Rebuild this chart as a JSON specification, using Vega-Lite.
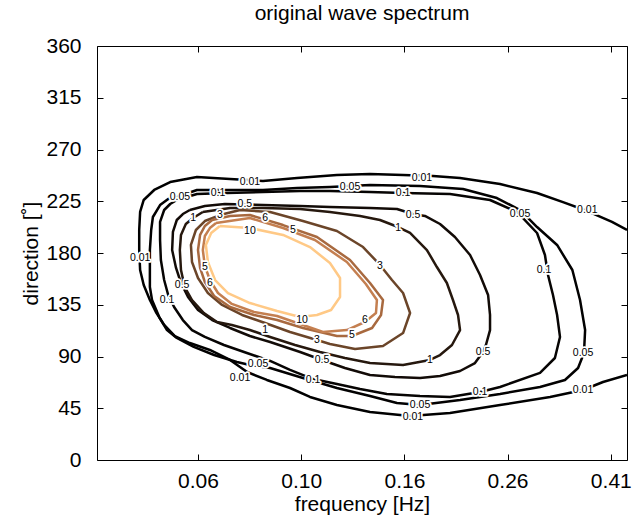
{
  "$schema": "https://vega.github.io/schema/vega-lite/v6.json",
  "width": 530,
  "height": 414,
  "autosize": {"type": "none"},
  "padding": {"left": 97, "top": 46, "right": 9, "bottom": 63},
  "background": "white",
  "config": {
    "view": {"stroke": "black", "strokeWidth": 1},
    "font": "Liberation Sans",
    "axis": {"grid": false, "domainColor": "black", "tickColor": "black", "labelColor": "black", "titleColor": "black", "labelFont": "Liberation Sans", "titleFont": "Liberation Sans", "titleFontWeight": "normal"}
  },
  "title": {"text": "original wave spectrum", "fontSize": 21, "fontWeight": "normal", "font": "Liberation Sans", "anchor": "middle", "offset": 11, "color": "black"},
  "datasets": {
    "contours": [
      {"level":"0.01","seq":1,"f":0.4445,"dir":200.0},{"level":"0.01","seq":2,"f":0.4151,"dir":207.0},{"level":"0.01","seq":3,"f":0.3710,"dir":216.5},{"level":"0.01","seq":4,"f":0.3321,"dir":224.3},{"level":"0.01","seq":5,"f":0.2951,"dir":232.2},{"level":"0.01","seq":6,"f":0.2493,"dir":240.0},{"level":"0.01","seq":7,"f":0.2078,"dir":245.2},{"level":"0.01","seq":8,"f":0.1837,"dir":247.0},{"level":"0.01","seq":9,"f":0.1603,"dir":247.8},{"level":"0.01","seq":10,"f":0.1379,"dir":248.7},{"level":"0.01","seq":11,"f":0.1186,"dir":247.8},{"level":"0.01","seq":12,"f":0.0989,"dir":245.2},{"level":"0.01","seq":13,"f":0.0847,"dir":242.6},{"level":"0.01","seq":14,"f":0.0729,"dir":244.3},{"level":"0.01","seq":15,"f":0.0627,"dir":246.1},{"level":"0.01","seq":16,"f":0.0555,"dir":241.7},{"level":"0.01","seq":17,"f":0.0516,"dir":234.8},{"level":"0.01","seq":18,"f":0.0492,"dir":226.1},{"level":"0.01","seq":19,"f":0.0484,"dir":215.7},{"level":"0.01","seq":20,"f":0.0482,"dir":200.0},{"level":"0.01","seq":21,"f":0.0482,"dir":182.6},{"level":"0.01","seq":22,"f":0.0484,"dir":165.2},{"level":"0.01","seq":23,"f":0.0492,"dir":152.2},{"level":"0.01","seq":24,"f":0.0506,"dir":139.1},{"level":"0.01","seq":25,"f":0.0520,"dir":128.7},{"level":"0.01","seq":26,"f":0.0540,"dir":117.4},{"level":"0.01","seq":27,"f":0.0567,"dir":107.8},{"level":"0.01","seq":28,"f":0.0607,"dir":101.7},{"level":"0.01","seq":29,"f":0.0665,"dir":95.7},{"level":"0.01","seq":30,"f":0.0729,"dir":87.0},{"level":"0.01","seq":31,"f":0.0788,"dir":76.5},{"level":"0.01","seq":32,"f":0.0862,"dir":69.6},{"level":"0.01","seq":33,"f":0.0958,"dir":62.6},{"level":"0.01","seq":34,"f":0.1049,"dir":54.8},{"level":"0.01","seq":35,"f":0.1186,"dir":47.8},{"level":"0.01","seq":36,"f":0.1379,"dir":41.7},{"level":"0.01","seq":37,"f":0.1655,"dir":38.3},{"level":"0.01","seq":38,"f":0.1985,"dir":40.9},{"level":"0.01","seq":39,"f":0.2493,"dir":47.8},{"level":"0.01","seq":40,"f":0.3131,"dir":54.8},{"level":"0.01","seq":41,"f":0.3638,"dir":60.9},{"level":"0.01","seq":42,"f":0.3985,"dir":67.8},{"level":"0.01","seq":43,"f":0.4445,"dir":73.9},
      {"level":"0.05","seq":1,"f":0.0572,"dir":228.7},{"level":"0.05","seq":2,"f":0.0627,"dir":234.8},{"level":"0.05","seq":3,"f":0.0729,"dir":234.8},{"level":"0.05","seq":4,"f":0.0847,"dir":234.8},{"level":"0.05","seq":5,"f":0.0989,"dir":236.5},{"level":"0.05","seq":6,"f":0.1149,"dir":237.4},{"level":"0.05","seq":7,"f":0.1379,"dir":239.1},{"level":"0.05","seq":8,"f":0.1732,"dir":238.3},{"level":"0.05","seq":9,"f":0.2106,"dir":235.7},{"level":"0.05","seq":10,"f":0.2458,"dir":227.8},{"level":"0.05","seq":11,"f":0.2731,"dir":217.4},{"level":"0.05","seq":12,"f":0.2951,"dir":202.6},{"level":"0.05","seq":13,"f":0.3233,"dir":187.0},{"level":"0.05","seq":14,"f":0.3466,"dir":165.2},{"level":"0.05","seq":15,"f":0.3589,"dir":139.1},{"level":"0.05","seq":16,"f":0.3673,"dir":113.0},{"level":"0.05","seq":17,"f":0.3654,"dir":93.0},{"level":"0.05","seq":18,"f":0.3557,"dir":80.0},{"level":"0.05","seq":19,"f":0.3351,"dir":69.6},{"level":"0.05","seq":20,"f":0.2991,"dir":63.5},{"level":"0.05","seq":21,"f":0.2493,"dir":57.4},{"level":"0.05","seq":22,"f":0.2078,"dir":52.2},{"level":"0.05","seq":23,"f":0.1732,"dir":47.8},{"level":"0.05","seq":24,"f":0.1559,"dir":49.6},{"level":"0.05","seq":25,"f":0.1379,"dir":55.7},{"level":"0.05","seq":26,"f":0.1186,"dir":62.6},{"level":"0.05","seq":27,"f":0.1016,"dir":71.3},{"level":"0.05","seq":28,"f":0.0875,"dir":80.0},{"level":"0.05","seq":29,"f":0.0798,"dir":82.6},{"level":"0.05","seq":30,"f":0.0752,"dir":85.2},{"level":"0.05","seq":31,"f":0.0678,"dir":91.3},{"level":"0.05","seq":32,"f":0.0618,"dir":98.3},{"level":"0.05","seq":33,"f":0.0572,"dir":106.1},{"level":"0.05","seq":34,"f":0.0547,"dir":113.0},{"level":"0.05","seq":35,"f":0.0528,"dir":124.3},{"level":"0.05","seq":36,"f":0.0511,"dir":139.1},{"level":"0.05","seq":37,"f":0.0506,"dir":150.4},{"level":"0.05","seq":38,"f":0.0506,"dir":165.2},{"level":"0.05","seq":39,"f":0.0506,"dir":182.6},{"level":"0.05","seq":40,"f":0.0509,"dir":200.0},{"level":"0.05","seq":41,"f":0.0513,"dir":211.3},{"level":"0.05","seq":42,"f":0.0530,"dir":221.7},{"level":"0.05","seq":43,"f":0.0550,"dir":227.0},{"level":"0.05","seq":44,"f":0.0572,"dir":228.7},
      {"level":"0.1","seq":1,"f":0.0572,"dir":226.1},{"level":"0.1","seq":2,"f":0.0627,"dir":231.3},{"level":"0.1","seq":3,"f":0.0719,"dir":232.2},{"level":"0.1","seq":4,"f":0.0847,"dir":233.0},{"level":"0.1","seq":5,"f":0.1003,"dir":233.9},{"level":"0.1","seq":6,"f":0.1149,"dir":233.9},{"level":"0.1","seq":7,"f":0.1379,"dir":233.0},{"level":"0.1","seq":8,"f":0.1603,"dir":232.2},{"level":"0.1","seq":9,"f":0.1985,"dir":231.3},{"level":"0.1","seq":10,"f":0.2382,"dir":226.1},{"level":"0.1","seq":11,"f":0.2694,"dir":215.7},{"level":"0.1","seq":12,"f":0.2951,"dir":197.4},{"level":"0.1","seq":13,"f":0.3059,"dir":178.3},{"level":"0.1","seq":14,"f":0.3102,"dir":160.9},{"level":"0.1","seq":15,"f":0.3173,"dir":143.5},{"level":"0.1","seq":16,"f":0.3233,"dir":126.1},{"level":"0.1","seq":17,"f":0.3276,"dir":107.0},{"level":"0.1","seq":18,"f":0.3201,"dir":88.7},{"level":"0.1","seq":19,"f":0.2991,"dir":75.7},{"level":"0.1","seq":20,"f":0.2493,"dir":63.5},{"level":"0.1","seq":21,"f":0.2276,"dir":59.1},{"level":"0.1","seq":22,"f":0.1985,"dir":54.8},{"level":"0.1","seq":23,"f":0.1732,"dir":55.7},{"level":"0.1","seq":24,"f":0.1489,"dir":57.4},{"level":"0.1","seq":25,"f":0.1318,"dir":61.7},{"level":"0.1","seq":26,"f":0.1186,"dir":66.1},{"level":"0.1","seq":27,"f":0.1064,"dir":70.4},{"level":"0.1","seq":28,"f":0.0958,"dir":78.3},{"level":"0.1","seq":29,"f":0.0875,"dir":86.1},{"level":"0.1","seq":30,"f":0.0777,"dir":93.9},{"level":"0.1","seq":31,"f":0.0709,"dir":100.0},{"level":"0.1","seq":32,"f":0.0650,"dir":107.0},{"level":"0.1","seq":33,"f":0.0613,"dir":113.0},{"level":"0.1","seq":34,"f":0.0588,"dir":121.7},{"level":"0.1","seq":35,"f":0.0565,"dir":133.0},{"level":"0.1","seq":36,"f":0.0550,"dir":143.5},{"level":"0.1","seq":37,"f":0.0540,"dir":156.5},{"level":"0.1","seq":38,"f":0.0532,"dir":173.9},{"level":"0.1","seq":39,"f":0.0530,"dir":191.3},{"level":"0.1","seq":40,"f":0.0530,"dir":207.0},{"level":"0.1","seq":41,"f":0.0540,"dir":217.4},{"level":"0.1","seq":42,"f":0.0555,"dir":222.6},{"level":"0.1","seq":43,"f":0.0572,"dir":226.1},
      {"level":"0.5","seq":1,"f":0.0607,"dir":217.4},{"level":"0.5","seq":2,"f":0.0650,"dir":220.9},{"level":"0.5","seq":3,"f":0.0712,"dir":222.6},{"level":"0.5","seq":4,"f":0.0847,"dir":221.7},{"level":"0.5","seq":5,"f":0.1003,"dir":220.9},{"level":"0.5","seq":6,"f":0.1149,"dir":220.0},{"level":"0.5","seq":7,"f":0.1379,"dir":219.1},{"level":"0.5","seq":8,"f":0.1559,"dir":218.3},{"level":"0.5","seq":9,"f":0.1677,"dir":213.9},{"level":"0.5","seq":10,"f":0.1771,"dir":212.2},{"level":"0.5","seq":11,"f":0.1897,"dir":205.2},{"level":"0.5","seq":12,"f":0.2030,"dir":193.9},{"level":"0.5","seq":13,"f":0.2175,"dir":178.3},{"level":"0.5","seq":14,"f":0.2276,"dir":160.9},{"level":"0.5","seq":15,"f":0.2361,"dir":143.5},{"level":"0.5","seq":16,"f":0.2382,"dir":126.1},{"level":"0.5","seq":17,"f":0.2382,"dir":113.0},{"level":"0.5","seq":18,"f":0.2338,"dir":100.0},{"level":"0.5","seq":19,"f":0.2307,"dir":93.9},{"level":"0.5","seq":20,"f":0.2224,"dir":84.3},{"level":"0.5","seq":21,"f":0.2078,"dir":77.4},{"level":"0.5","seq":22,"f":0.1897,"dir":73.0},{"level":"0.5","seq":23,"f":0.1732,"dir":71.3},{"level":"0.5","seq":24,"f":0.1545,"dir":72.2},{"level":"0.5","seq":25,"f":0.1379,"dir":73.9},{"level":"0.5","seq":26,"f":0.1230,"dir":80.0},{"level":"0.5","seq":27,"f":0.1108,"dir":87.0},{"level":"0.5","seq":28,"f":0.1003,"dir":93.9},{"level":"0.5","seq":29,"f":0.0875,"dir":102.6},{"level":"0.5","seq":30,"f":0.0798,"dir":107.8},{"level":"0.5","seq":31,"f":0.0729,"dir":114.8},{"level":"0.5","seq":32,"f":0.0672,"dir":121.7},{"level":"0.5","seq":33,"f":0.0630,"dir":130.4},{"level":"0.5","seq":34,"f":0.0602,"dir":141.7},{"level":"0.5","seq":35,"f":0.0583,"dir":153.9},{"level":"0.5","seq":36,"f":0.0570,"dir":167.0},{"level":"0.5","seq":37,"f":0.0560,"dir":182.6},{"level":"0.5","seq":38,"f":0.0562,"dir":198.3},{"level":"0.5","seq":39,"f":0.0572,"dir":208.7},{"level":"0.5","seq":40,"f":0.0588,"dir":213.9},{"level":"0.5","seq":41,"f":0.0607,"dir":217.4},
      {"level":"1","seq":1,"f":0.0644,"dir":215.7},{"level":"1","seq":2,"f":0.0729,"dir":219.1},{"level":"1","seq":3,"f":0.0847,"dir":219.1},{"level":"1","seq":4,"f":0.1003,"dir":218.3},{"level":"1","seq":5,"f":0.1149,"dir":215.7},{"level":"1","seq":6,"f":0.1318,"dir":212.2},{"level":"1","seq":7,"f":0.1443,"dir":208.7},{"level":"1","seq":8,"f":0.1567,"dir":202.6},{"level":"1","seq":9,"f":0.1655,"dir":197.4},{"level":"1","seq":10,"f":0.1787,"dir":182.6},{"level":"1","seq":11,"f":0.1870,"dir":167.8},{"level":"1","seq":12,"f":0.1957,"dir":153.9},{"level":"1","seq":13,"f":0.2012,"dir":139.1},{"level":"1","seq":14,"f":0.2059,"dir":126.1},{"level":"1","seq":15,"f":0.2078,"dir":113.0},{"level":"1","seq":16,"f":0.2003,"dir":100.0},{"level":"1","seq":17,"f":0.1897,"dir":91.3},{"level":"1","seq":18,"f":0.1812,"dir":87.0},{"level":"1","seq":19,"f":0.1603,"dir":82.6},{"level":"1","seq":20,"f":0.1379,"dir":84.3},{"level":"1","seq":21,"f":0.1230,"dir":88.7},{"level":"1","seq":22,"f":0.1098,"dir":93.9},{"level":"1","seq":23,"f":0.0980,"dir":100.0},{"level":"1","seq":24,"f":0.0875,"dir":107.0},{"level":"1","seq":25,"f":0.0798,"dir":113.0},{"level":"1","seq":26,"f":0.0735,"dir":117.4},{"level":"1","seq":27,"f":0.0687,"dir":120.0},{"level":"1","seq":28,"f":0.0647,"dir":127.8},{"level":"1","seq":29,"f":0.0613,"dir":139.1},{"level":"1","seq":30,"f":0.0593,"dir":150.4},{"level":"1","seq":31,"f":0.0583,"dir":165.2},{"level":"1","seq":32,"f":0.0580,"dir":182.6},{"level":"1","seq":33,"f":0.0583,"dir":195.7},{"level":"1","seq":34,"f":0.0596,"dir":205.2},{"level":"1","seq":35,"f":0.0616,"dir":210.4},{"level":"1","seq":36,"f":0.0644,"dir":215.7},
      {"level":"3","seq":1,"f":0.0696,"dir":213.0},{"level":"3","seq":2,"f":0.0763,"dir":217.4},{"level":"3","seq":3,"f":0.0875,"dir":215.7},{"level":"3","seq":4,"f":0.1016,"dir":207.8},{"level":"3","seq":5,"f":0.1186,"dir":199.1},{"level":"3","seq":6,"f":0.1336,"dir":185.2},{"level":"3","seq":7,"f":0.1443,"dir":169.6},{"level":"3","seq":8,"f":0.1524,"dir":156.5},{"level":"3","seq":9,"f":0.1603,"dir":145.2},{"level":"3","seq":10,"f":0.1655,"dir":127.8},{"level":"3","seq":11,"f":0.1603,"dir":110.4},{"level":"3","seq":12,"f":0.1463,"dir":99.1},{"level":"3","seq":13,"f":0.1288,"dir":96.5},{"level":"3","seq":14,"f":0.1149,"dir":100.9},{"level":"3","seq":15,"f":0.1083,"dir":104.3},{"level":"3","seq":16,"f":0.0958,"dir":111.3},{"level":"3","seq":17,"f":0.0855,"dir":119.1},{"level":"3","seq":18,"f":0.0770,"dir":126.1},{"level":"3","seq":19,"f":0.0703,"dir":134.8},{"level":"3","seq":20,"f":0.0659,"dir":145.2},{"level":"3","seq":21,"f":0.0630,"dir":158.3},{"level":"3","seq":22,"f":0.0613,"dir":172.2},{"level":"3","seq":23,"f":0.0610,"dir":187.0},{"level":"3","seq":24,"f":0.0624,"dir":200.0},{"level":"3","seq":25,"f":0.0650,"dir":207.8},{"level":"3","seq":26,"f":0.0696,"dir":213.0},
      {"level":"5","seq":1,"f":0.0672,"dir":208.7},{"level":"5","seq":2,"f":0.0729,"dir":212.2},{"level":"5","seq":3,"f":0.0798,"dir":213.0},{"level":"5","seq":4,"f":0.0928,"dir":204.3},{"level":"5","seq":5,"f":0.1083,"dir":193.9},{"level":"5","seq":6,"f":0.1259,"dir":173.9},{"level":"5","seq":7,"f":0.1379,"dir":153.9},{"level":"5","seq":8,"f":0.1463,"dir":139.1},{"level":"5","seq":9,"f":0.1450,"dir":126.1},{"level":"5","seq":10,"f":0.1392,"dir":114.8},{"level":"5","seq":11,"f":0.1270,"dir":107.8},{"level":"5","seq":12,"f":0.1186,"dir":107.8},{"level":"5","seq":13,"f":0.1016,"dir":114.8},{"level":"5","seq":14,"f":0.0903,"dir":121.7},{"level":"5","seq":15,"f":0.0813,"dir":126.1},{"level":"5","seq":16,"f":0.0729,"dir":133.0},{"level":"5","seq":17,"f":0.0678,"dir":142.6},{"level":"5","seq":18,"f":0.0650,"dir":154.8},{"level":"5","seq":19,"f":0.0636,"dir":167.0},{"level":"5","seq":20,"f":0.0630,"dir":182.6},{"level":"5","seq":21,"f":0.0636,"dir":195.7},{"level":"5","seq":22,"f":0.0650,"dir":203.5},{"level":"5","seq":23,"f":0.0672,"dir":208.7},
      {"level":"6","seq":1,"f":0.0684,"dir":206.1},{"level":"6","seq":2,"f":0.0798,"dir":210.4},{"level":"6","seq":3,"f":0.0928,"dir":201.7},{"level":"6","seq":4,"f":0.1073,"dir":191.3},{"level":"6","seq":5,"f":0.1241,"dir":172.2},{"level":"6","seq":6,"f":0.1353,"dir":153.0},{"level":"6","seq":7,"f":0.1423,"dir":139.1},{"level":"6","seq":8,"f":0.1417,"dir":127.8},{"level":"6","seq":9,"f":0.1347,"dir":120.0},{"level":"6","seq":10,"f":0.1241,"dir":113.0},{"level":"6","seq":11,"f":0.1113,"dir":111.3},{"level":"6","seq":12,"f":0.1016,"dir":117.4},{"level":"6","seq":13,"f":0.0903,"dir":125.2},{"level":"6","seq":14,"f":0.0813,"dir":128.7},{"level":"6","seq":15,"f":0.0735,"dir":135.7},{"level":"6","seq":16,"f":0.0690,"dir":145.2},{"level":"6","seq":17,"f":0.0665,"dir":156.5},{"level":"6","seq":18,"f":0.0650,"dir":168.7},{"level":"6","seq":19,"f":0.0644,"dir":182.6},{"level":"6","seq":20,"f":0.0650,"dir":194.8},{"level":"6","seq":21,"f":0.0665,"dir":201.7},{"level":"6","seq":22,"f":0.0684,"dir":206.1},
      {"level":"10","seq":1,"f":0.0696,"dir":203.5},{"level":"10","seq":2,"f":0.0798,"dir":201.7},{"level":"10","seq":3,"f":0.0928,"dir":195.7},{"level":"10","seq":4,"f":0.1049,"dir":185.2},{"level":"10","seq":5,"f":0.1149,"dir":171.3},{"level":"10","seq":6,"f":0.1203,"dir":158.3},{"level":"10","seq":7,"f":0.1203,"dir":141.7},{"level":"10","seq":8,"f":0.1155,"dir":130.4},{"level":"10","seq":9,"f":0.1083,"dir":126.1},{"level":"10","seq":10,"f":0.1003,"dir":124.3},{"level":"10","seq":11,"f":0.0903,"dir":129.6},{"level":"10","seq":12,"f":0.0798,"dir":136.5},{"level":"10","seq":13,"f":0.0722,"dir":145.2},{"level":"10","seq":14,"f":0.0681,"dir":156.5},{"level":"10","seq":15,"f":0.0659,"dir":172.2},{"level":"10","seq":16,"f":0.0653,"dir":187.0},{"level":"10","seq":17,"f":0.0669,"dir":197.4},{"level":"10","seq":18,"f":0.0696,"dir":203.5}
    ],
    "labels": [
      {"level":"0.01","f":0.0798,"dir":241.7},{"level":"0.01","f":0.1747,"dir":245.2},{"level":"0.01","f":0.3710,"dir":217.4},{"level":"0.01","f":0.0484,"dir":175.7},{"level":"0.01","f":0.0763,"dir":71.3},{"level":"0.01","f":0.1677,"dir":37.4},{"level":"0.01","f":0.3638,"dir":60.9},
      {"level":"0.05","f":0.0580,"dir":228.7},{"level":"0.05","f":0.1259,"dir":237.4},{"level":"0.05","f":0.2731,"dir":213.9},{"level":"0.05","f":0.3638,"dir":93.0},{"level":"0.05","f":0.1732,"dir":47.8},{"level":"0.05","f":0.0828,"dir":83.5},
      {"level":"0.1","f":0.0690,"dir":232.2},{"level":"0.1","f":0.1603,"dir":232.2},{"level":"0.1","f":0.3045,"dir":165.2},{"level":"0.1","f":0.2276,"dir":59.1},{"level":"0.1","f":0.1064,"dir":69.6},{"level":"0.1","f":0.0547,"dir":139.1},
      {"level":"0.5","f":0.0780,"dir":223.0},{"level":"0.5","f":0.1677,"dir":213.0},{"level":"0.5","f":0.2307,"dir":93.9},{"level":"0.5","f":0.1108,"dir":87.0},{"level":"0.5","f":0.0586,"dir":152.2},
      {"level":"1","f":0.0616,"dir":210.4},{"level":"1","f":0.1567,"dir":201.7},{"level":"1","f":0.1812,"dir":87.0},{"level":"1","f":0.0855,"dir":113.0},
      {"level":"3","f":0.0696,"dir":213.0},{"level":"3","f":0.1443,"dir":168.7},{"level":"3","f":0.1083,"dir":104.3},
      {"level":"5","f":0.0971,"dir":200.0},{"level":"5","f":0.1270,"dir":108.7},{"level":"5","f":0.0650,"dir":168.0},
      {"level":"6","f":0.0855,"dir":210.4},{"level":"6","f":0.1347,"dir":121.7},{"level":"6","f":0.0665,"dir":153.5},
      {"level":"10","f":0.0798,"dir":199.1},{"level":"10","f":0.1012,"dir":121.7}
    ]
  },
  "layer": [
    {
      "data": {"name": "contours"},
      "mark": {"type": "line", "strokeWidth": 2.5, "clip": true, "strokeJoin": "round"},
      "encoding": {
        "x": {"field": "f", "type": "quantitative", "scale": {"type": "log", "domain": [0.03977, 0.4445], "nice": false},
              "axis": {"orient": "bottom", "values": [0.063, 0.1008, 0.16128, 0.258, 0.4129], "format": ".2f", "title": "frequency [Hz]", "labelFontSize": 21, "titleFontSize": 21, "tickSize": -6, "labelPadding": 16, "titlePadding": 2, "domain": false, "labelFlush": false}},
        "y": {"field": "dir", "type": "quantitative", "scale": {"domain": [0, 360], "nice": false, "zero": false},
              "axis": {"orient": "left", "values": [0, 45, 90, 135, 180, 225, 270, 315, 360], "title": "direction [˚]", "labelFontSize": 21, "titleFontSize": 21, "tickSize": -6, "labelPadding": 22, "titlePadding": 4, "domain": false}},
        "detail": {"field": "level"},
        "order": {"field": "seq", "type": "quantitative"},
        "color": {"field": "level", "type": "nominal", "legend": null,
                  "scale": {"domain": ["0.01", "0.05", "0.1", "0.5", "1", "3", "5", "6", "10"],
                            "range": ["#000000", "#020101", "#060403", "#120b07", "#26180e", "#6b4529", "#a8693f", "#c47f50", "#ffc986"]}}
      }
    },
    {
      "data": {"name": "labels"},
      "mark": {"type": "text", "fontSize": 10.5, "font": "Liberation Sans", "fill": "white", "stroke": "white", "strokeWidth": 3.5, "strokeJoin": "round"},
      "encoding": {
        "x": {"field": "f", "type": "quantitative", "axis": {"orient": "top", "values": [0.063, 0.1008, 0.16128, 0.258, 0.4129], "labels": false, "title": null, "tickSize": -6, "domain": false}},
        "y": {"field": "dir", "type": "quantitative", "axis": {"orient": "right", "values": [0, 45, 90, 135, 180, 225, 270, 315, 360], "labels": false, "title": null, "tickSize": -6, "domain": false}},
        "text": {"field": "level"}
      }
    },
    {
      "data": {"name": "labels"},
      "mark": {"type": "text", "fontSize": 10.5, "font": "Liberation Sans", "fill": "black"},
      "encoding": {
        "x": {"field": "f", "type": "quantitative", "axis": null},
        "y": {"field": "dir", "type": "quantitative", "axis": null},
        "text": {"field": "level"}
      }
    }
  ],
  "resolve": {"axis": {"x": "independent", "y": "independent"}}
}
